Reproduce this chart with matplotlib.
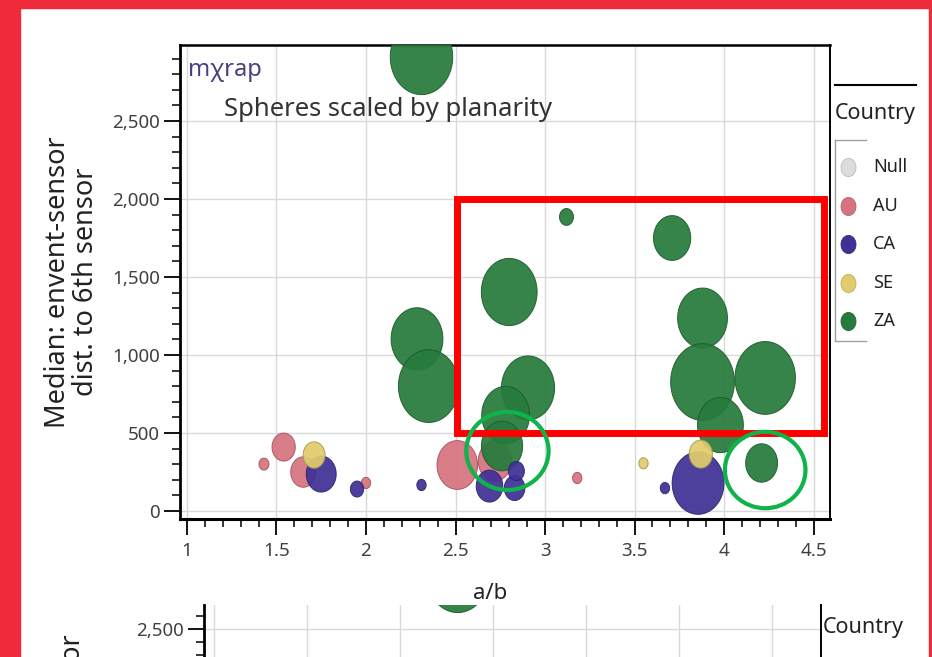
import matplotlib
matplotlib.use("Agg")
import matplotlib.pyplot as plt
import numpy as np
from matplotlib.path import Path
from matplotlib.patches import Rectangle, Ellipse
from matplotlib.lines import Line2D
from matplotlib.ticker import MultipleLocator, FuncFormatter

plt.rcParams["font.family"] = ["Noto Sans", "DejaVu Sans"]

# --- data ---
countries = ["Null", "AU", "CA", "SE", "ZA"]
country_colors = ["#dcdcdc", "#d7737f", "#3f3196", "#e0cc6c", "#267b3c"]

au_ab = [1.54, 1.43, 1.65, 2.00, 2.51, 2.72, 3.18]
au_dist = [410, 301, 250, 180, 295, 320, 212]
au_planarity = [0.35, 0.15, 0.38, 0.14, 0.61, 0.50, 0.14]

ca_ab = [1.75, 1.95, 2.31, 2.69, 2.83, 2.84, 3.67, 3.855]
ca_dist = [237, 141, 167, 160, 147, 256, 147, 179]
ca_planarity = [0.45, 0.20, 0.14, 0.40, 0.31, 0.24, 0.14, 0.78]

se_ab = [1.71, 3.55, 3.87]
se_dist = [359, 306, 365]
se_planarity = [0.33, 0.14, 0.35]

za_ab = [2.31, 2.285, 2.35, 2.80, 3.12, 2.905, 2.78, 2.76,
         3.71, 3.88, 3.88, 4.23, 3.98, 4.21]
za_dist = [2910, 1103, 801, 1404, 1885, 789, 615, 417,
           1750, 1237, 827, 853, 551, 308]
za_planarity = [0.94, 0.78, 0.91, 0.84, 0.21, 0.80, 0.72, 0.62,
                0.56, 0.75, 0.96, 0.91, 0.69, 0.48]

W, H = 932, 657
SIZE_PT = 57.6  # marker height in points for planarity 1.0


def fx(px):
    return px / W


def fy(py):
    return 1 - py / H


# slightly tall ellipse, like the rendered spheres
theta = np.linspace(0, 2 * np.pi, 90)
sphere = Path(np.column_stack([0.83 * np.cos(theta), np.sin(theta)]), closed=True)


def darker(hexcol, f=0.75):
    c = np.array(matplotlib.colors.to_rgb(hexcol))
    return tuple(c * f)


def draw_bubbles(ax):
    col = dict(zip(countries, country_colors))
    # ZA drawn top-down so lower spheres sit in front
    za = sorted(zip(za_ab, za_dist, za_planarity), key=lambda t: -t[1])
    groups = [
        ("AU", au_ab, au_dist, au_planarity),
        ("ZA", [t[0] for t in za], [t[1] for t in za], [t[2] for t in za]),
        ("CA", ca_ab, ca_dist, ca_planarity),
        ("SE", se_ab, se_dist, se_planarity),
    ]
    for name, xs, ys, ps in groups:
        sizes = (np.array(ps) * SIZE_PT) ** 2
        ax.scatter(xs, ys, s=sizes, marker=sphere, color=col[name],
                   edgecolor=darker(col[name]), linewidth=0.7, alpha=0.93, zorder=3)


def style_axes(ax):
    ax.xaxis.set_major_locator(MultipleLocator(0.5))
    ax.xaxis.set_minor_locator(MultipleLocator(0.1))
    ax.yaxis.set_major_locator(MultipleLocator(500))
    ax.yaxis.set_minor_locator(MultipleLocator(100))
    ax.xaxis.set_major_formatter(FuncFormatter(lambda v, p: f"{v:g}"))
    ax.yaxis.set_major_formatter(FuncFormatter(lambda v, p: f"{int(round(v)):,}"))
    ax.grid(which="major", color="#d9d9d9", linewidth=1.0)
    ax.set_axisbelow(True)
    ax.tick_params(which="major", length=11.5, width=1.3, color="black",
                   labelsize=13.5, labelcolor="#404040", pad=3)
    ax.tick_params(axis="x", which="major", pad=5)
    ax.tick_params(which="minor", length=6, width=1.1, color="black")
    ax.spines["left"].set_linewidth(2.0)
    ax.spines["bottom"].set_linewidth(2.2)
    ax.spines["top"].set_linewidth(1.8)
    ax.spines["right"].set_linewidth(1.4)


ylabel = "Median: envent-sensor\ndist. to 6th sensor"

fig = plt.figure(figsize=(W / 100, H / 100), dpi=100)
fig.patch.set_facecolor("white")

# main chart
ax = fig.add_axes([fx(180), fy(519), fx(650), 474 / H])
draw_bubbles(ax)
style_axes(ax)
ax.set_xlim(0.961, 4.592)
ax.set_ylim(-51, 2987)
ax.set_xlabel("a/b", fontsize=16, color="#222222")
ax.xaxis.set_label_coords(0.477, -0.135)
ax.set_ylabel(ylabel, fontsize=19.5, color="#222222", linespacing=1.0)
ax.yaxis.set_label_coords(-0.123, 0.5)

ax.text(fx(188), fy(70), "m\u03c7rap", transform=fig.transFigure, fontsize=17,
        color="#4b3f82", va="center", ha="left")
ax.text(fx(224), fy(110), "Spheres scaled by planarity", transform=fig.transFigure,
        fontsize=18.5, color="#333333", va="center", ha="left")

# annotation marks drawn on top of the chart
ax.add_patch(Rectangle((2.51, 500), 2.05, 1500, fill=False, edgecolor="#ff0000",
                       linewidth=5, clip_on=False, zorder=6))
ax.add_patch(Ellipse((2.79, 385), 0.46, 500, fill=False, edgecolor="#10b34a",
                     linewidth=3, clip_on=False, zorder=6))
ax.add_patch(Ellipse((4.23, 263), 0.45, 490, fill=False, edgecolor="#10b34a",
                     linewidth=3, clip_on=False, zorder=6))

# legend
fig.add_artist(Line2D([fx(835), fx(916)], [fy(85), fy(85)], color="black", lw=1.5))
fig.text(fx(835), fy(113), "Country", fontsize=15.5, color="#222222", va="center")
fig.add_artist(Line2D([fx(835), fx(866)], [fy(140), fy(140)], color="#a0a0a0", lw=1))
fig.add_artist(Line2D([fx(835), fx(835)], [fy(140), fy(341)], color="#a0a0a0", lw=1))
fig.add_artist(Line2D([fx(835), fx(866)], [fy(341), fy(341)], color="#a0a0a0", lw=1))
for i, (name, c) in enumerate(zip(countries, country_colors)):
    yy = fy(167 + i * 38.5)
    fig.add_artist(Line2D([fx(848)], [yy], marker=sphere, markersize=13, color=c,
                          markeredgecolor=darker(c, 0.85), markeredgewidth=0.6,
                          linestyle="none"))
    fig.text(fx(873), yy, name, fontsize=13, color="#222222", va="center")

# second chart peeking in at the bottom
ax2 = fig.add_axes([fx(204), fy(966), fx(617), 361 / H])
draw_bubbles(ax2)
style_axes(ax2)
ax2.spines["top"].set_visible(False)
ax2.tick_params(axis="x", labelbottom=False)
ax2.set_xlim(0.946, 4.263)
ax2.set_ylim(-60, 2682)
ax2.set_ylabel(ylabel, fontsize=19.5, color="#222222", linespacing=1.0)
ax2.yaxis.set_label_coords(-0.144, 0.515)
fig.text(fx(823), fy(628), "Country", fontsize=15.5, color="#222222", va="center")

# screenshot frame
red = "#ef2a3b"
fig.add_artist(Rectangle((0, 0), fx(20), 1, transform=fig.transFigure,
                         color=red, zorder=10))
fig.add_artist(Rectangle((0, fy(8)), 1, 8 / H, transform=fig.transFigure,
                         color=red, zorder=10))
fig.add_artist(Rectangle((fx(929), 0), 3 / W, 1, transform=fig.transFigure,
                         color=red, zorder=10))

fig.savefig("out.png", dpi=100)
plt.close(fig)
